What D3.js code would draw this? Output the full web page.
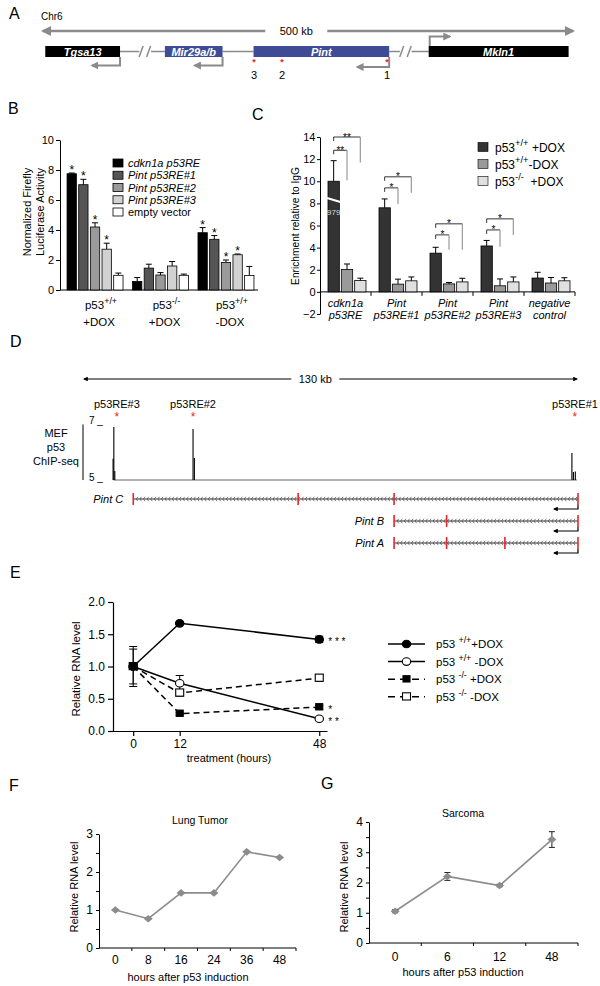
<!DOCTYPE html>
<html><head><meta charset="utf-8">
<script src="https://cdn.jsdelivr.net/npm/d3@7"></script>
<style>
body{margin:0;background:#fff}
svg{display:block}
text{font-family:"Liberation Sans",Arial,Helvetica,sans-serif;white-space:pre;fill:#000}
</style>
</head><body>
<svg id="fig" width="600" height="986"></svg>
<script>
// ================= DATA =================
// Panel A (schematic positions along the 500 kb map)
const aGenes = ["Tgsa13", "Mir29a/b", "Pint", "Mkln1"];
const aGeneStart = [4, 116, 199, 363];
const aGeneEnd = [74, 170, 326, 494];
const aGeneStrand = ["-", "-", "-", "+"];
const aBreaks = [97, 341];
const aRE = [199.5, 225.7, 324];
const aRELabels = ["3", "2", "1"];

// Panel B
const bGroups = ["p53+/+ +DOX", "p53-/- +DOX", "p53+/+ -DOX"];
const bGroupSup = ["+/+", "-/-", "+/+"];
const bGroupLine2 = ["+DOX", "+DOX", "-DOX"];
const bSeries = ["cdkn1a p53RE", "Pint p53RE#1", "Pint p53RE#2", "Pint p53RE#3", "empty vector"];
const bValues = [[7.75, 7.02, 4.2, 2.72, 0.98], [0.57, 1.46, 1.0, 1.6, 0.98], [3.82, 3.38, 1.83, 2.35, 0.97]];
const bErrors = [[0.05, 0.36, 0.28, 0.4, 0.15], [0.26, 0.26, 0.16, 0.3, 0.08], [0.34, 0.25, 0.17, 0.05, 0.6]];
const bSig = [[1, 1, 1, 1, 0], [0, 0, 0, 0, 0], [1, 1, 1, 1, 0]];
const bTicks = [0, 2, 4, 6, 8, 10];

// Panel C
const cGroups = ["cdkn1a|p53RE", "Pint|p53RE#1", "Pint|p53RE#2", "Pint|p53RE#3", "negative|control"];
const cSeries = ["p53+/+ +DOX", "p53+/+ -DOX", "p53-/- +DOX"];
const cSeriesSup = ["+/+", "+/+", "-/-"];
const cSeriesTail = [" +DOX", "-DOX", "  +DOX"];
const cValues = [[10.0, 2.02, 1.02], [7.6, 0.7, 1.0], [3.5, 0.72, 0.9], [4.15, 0.55, 0.9], [1.25, 0.8, 1.0]];
const cErrors = [[1.86, 0.5, 0.22], [0.8, 0.45, 0.35], [0.53, 0.13, 0.33], [0.5, 0.62, 0.45], [0.52, 0.5, 0.28]];
const cTicks = [-2, 0, 2, 4, 6, 8, 10, 12, 14];
const cBreakValue = 8.3;
const cBreakLabel = "979";
const cBrackets = [
  {g: 0, to: 1, y: 12.8, end: 10.1, label: "**"},
  {g: 0, to: 2, y: 14.0, end: 11.7, label: "**"},
  {g: 1, to: 1, y: 9.4, end: 7.95, label: "*"},
  {g: 1, to: 2, y: 10.4, end: 8.95, label: "*"},
  {g: 2, to: 1, y: 5.15, end: 3.8, label: "*"},
  {g: 2, to: 2, y: 6.15, end: 3.8, label: "*"},
  {g: 3, to: 1, y: 5.6, end: 4.07, label: "*"},
  {g: 3, to: 2, y: 6.6, end: 5.15, label: "*"}
];

// Panel D (kb along the 130 kb window)
const dREkb = [8.9, 28.9, 129.2];
const dRELabels = ["p53RE#3", "p53RE#2", "p53RE#1"];
const dChipKb = [7.9, 8.1, 8.35, 28.9, 29.25, 128.4, 128.8, 129.3];
const dChipSignal = [5.75, 6.86, 5.32, 6.79, 5.77, 5.95, 5.28, 5.3];
const dChipRange = [8.0, 129.7];
const dTranscripts = ["Pint C", "Pint B", "Pint A"];
const dExons = [[13.2, 56.5, 81.7, 130], [81.7, 95.5, 130], [81.7, 95.5, 110.8, 130]];

// Panel E
const eHours = [0, 12, 48];
const eSeries = ["p53+/+ +DOX", "p53+/+ -DOX", "p53-/- +DOX", "p53-/- -DOX"];
const eSup = ["+/+", "+/+", "-/-", "-/-"];
const eTail = ["+DOX", " -DOX", " +DOX", " -DOX"];
const eValues = [[1.0, 1.67, 1.42], [1.0, 0.74, 0.19], [1.0, 0.27, 0.37], [1.0, 0.59, 0.82]];
const eErrors = [[0.31, 0.02, 0.05], [0.27, 0.12, 0.02], [0.03, 0.02, 0.03], [0.03, 0.05, 0.05]];
const eStars = ["* * *", "* *", "*", ""];
const eTicks = [0, 0.5, 1.0, 1.5, 2.0];

// Panel F
const fHours = ["0", "8", "16", "24", "36", "48"];
const fValues = [1.0, 0.77, 1.45, 1.45, 2.53, 2.38];
const fTicks = [0, 0.5, 1, 1.5, 2, 2.5, 3];

// Panel G
const gHours = ["0", "6", "12", "48"];
const gValues = [1.05, 2.2, 1.9, 3.42];
const gErrors = [0.05, 0.13, 0.04, 0.26];
const gTicks = [0, 0.5, 1, 1.5, 2, 2.5, 3, 3.5, 4];

// ================= DRAWING =================
const svg = d3.select("#fig");
svg.append("rect").attr("width", 600).attr("height", 986).attr("fill", "#fff");
const defs = svg.append("defs");
function marker(id, color) {
  defs.append("marker").attr("id", id).attr("viewBox", "0 0 10 10")
    .attr("refX", 8).attr("refY", 5).attr("markerWidth", 4).attr("markerHeight", 4)
    .attr("orient", "auto-start-reverse")
    .append("path").attr("d", "M0,0L10,5L0,10z").attr("fill", color);
}
marker("ahGray", "#8a8a8a");
marker("ahBlack", "#000");
const FONT = "Liberation Sans, Arial, sans-serif";
const RED = "#e6262b";

function label(txt, x, y) {
  svg.append("text").attr("x", x).attr("y", y).attr("font-size", 16).text(txt);
}
function supText(sel, x, y, parts, size, anchor) {
  const t = sel.append("text").attr("x", x).attr("y", y).attr("font-size", size)
    .attr("text-anchor", anchor || "start");
  let up = false;
  parts.forEach(p => {
    const sup = Array.isArray(p);
    const s = sup ? p[0] : p;
    const ts = t.append("tspan").text(s);
    if (sup && !up) { ts.attr("dy", -size * 0.42).attr("font-size", size * 0.78); up = true; }
    else if (sup) { ts.attr("font-size", size * 0.78); }
    else if (up) { ts.attr("dy", size * 0.42); up = false; }
  });
  return t;
}

// ---------- Panel A ----------
{
  const g = svg.append("g");
  const xA = d3.scaleLinear().domain([0, 500]).range([41, 575]);
  label("A", 9, 19);
  g.append("text").attr("x", 41).attr("y", 19.5).attr("font-size", 10).text("Chr6");
  const cx = xA(239);
  g.append("text").attr("x", cx).attr("y", 35).attr("font-size", 11).attr("text-anchor", "middle").text("500 kb");
  g.append("line").attr("x1", cx - 31).attr("x2", xA(0) + 2).attr("y1", 31).attr("y2", 31)
    .attr("stroke", "#8a8a8a").attr("stroke-width", 2.5).attr("marker-end", "url(#ahGray)");
  g.append("line").attr("x1", cx + 31).attr("x2", xA(500) - 2).attr("y1", 31).attr("y2", 31)
    .attr("stroke", "#8a8a8a").attr("stroke-width", 2.5).attr("marker-end", "url(#ahGray)");
  const segs = [
    [aGeneEnd[0], aBreaks[0] - 5], [aBreaks[0] + 6, aGeneStart[1]],
    [aGeneEnd[1], aGeneStart[2]], [aGeneEnd[2], aBreaks[1] - 5], [aBreaks[1] + 6, aGeneStart[3]]
  ];
  segs.forEach(s => g.append("line").attr("x1", xA(s[0])).attr("x2", xA(s[1])).attr("y1", 51.5).attr("y2", 51.5)
    .attr("stroke", "#8a8a8a").attr("stroke-width", 1.5));
  aBreaks.forEach(b => {
    [-3.5, 4].forEach(o => g.append("line").attr("x1", xA(b) + o - 2).attr("x2", xA(b) + o + 2)
      .attr("y1", 57).attr("y2", 46).attr("stroke", "#8a8a8a").attr("stroke-width", 1.5));
  });
  aGenes.forEach((name, i) => {
    const col = (i === 1 || i === 2) ? "#3f4c95" : "#000";
    g.append("rect").attr("x", xA(aGeneStart[i])).attr("y", 46).attr("width", xA(aGeneEnd[i]) - xA(aGeneStart[i]))
      .attr("height", 11).attr("fill", col);
    g.append("text").attr("x", (xA(aGeneStart[i]) + xA(aGeneEnd[i])) / 2).attr("y", 55.5)
      .attr("text-anchor", "middle").attr("font-size", 11).attr("font-weight", "bold").attr("font-style", "italic")
      .style("fill", "#fff").text(name);
    if (aGeneStrand[i] === "-") {
      const x = xA(aGeneEnd[i]);
      const yy = i === 2 ? 67 : 65.5;
      const len = i === 2 ? 32 : 28;
      g.append("path").attr("d", `M${x},57V${yy}H${x - len}`).attr("fill", "none")
        .attr("stroke", "#8a8a8a").attr("stroke-width", 2).attr("marker-end", "url(#ahGray)");
    } else {
      const x = xA(aGeneStart[i]) + 1;
      g.append("path").attr("d", `M${x},46V36.5H${x + 20}`).attr("fill", "none")
        .attr("stroke", "#8a8a8a").attr("stroke-width", 2).attr("marker-end", "url(#ahGray)");
    }
  });
  aRE.forEach((p, i) => {
    g.append("text").attr("x", xA(p)).attr("y", 65).attr("text-anchor", "middle").attr("font-size", 9)
      .style("fill", RED).attr("font-weight", "bold").text("*");
    g.append("text").attr("x", xA(p)).attr("y", 78.5).attr("text-anchor", "middle").attr("font-size", 11).text(aRELabels[i]);
  });
}

// ---------- Panel B ----------
{
  const g = svg.append("g");
  label("B", 8, 114);
  const yB = d3.scaleLinear().domain([0, 10]).range([290, 140]);
  const x0 = d3.scaleBand().domain(bGroups).range([60.5, 260.5]).paddingInner(0.145).paddingOuter(0.1);
  const x1 = d3.scaleBand().domain(bSeries).range([0, x0.bandwidth()]).paddingInner(0.2);
  const cols = ["#000", "#555", "#9a9a9a", "#d2d2d2", "#fff"];
  g.append("g").attr("transform", "translate(60,0)")
    .call(d3.axisLeft(yB).tickValues(bTicks).tickSize(4).tickPadding(2).tickSizeOuter(0).tickFormat(d3.format("d")))
    .call(a => { a.selectAll("text").attr("font-size", 11).attr("font-family", FONT); a.selectAll("line,path").attr("stroke", "#000"); });
  g.append("line").attr("x1", 60).attr("x2", 258).attr("y1", 290).attr("y2", 290).attr("stroke", "#000");
  bGroups.forEach((gr, gi) => {
    bSeries.forEach((s, si) => {
      const v = bValues[gi][si], e = bErrors[gi][si];
      const x = x0(gr) + x1(s), w = x1.bandwidth();
      g.append("line").attr("x1", x + w / 2).attr("x2", x + w / 2).attr("y1", yB(v)).attr("y2", yB(v + e)).attr("stroke", "#000");
      g.append("line").attr("x1", x + w / 2 - 3).attr("x2", x + w / 2 + 3).attr("y1", yB(v + e)).attr("y2", yB(v + e)).attr("stroke", "#000");
      g.append("rect").attr("x", x).attr("y", yB(v)).attr("width", w).attr("height", yB(0) - yB(v))
        .attr("fill", cols[si]).attr("stroke", "#000").attr("stroke-width", 0.8);
      if (bSig[gi][si]) g.append("text").attr("x", x + w / 2).attr("y", yB(v + e) + 1).attr("text-anchor", "middle")
        .attr("font-size", 12).text("*");
    });
    const cx = x0(gr) + x0.bandwidth() / 2 + 6;
    supText(g, cx, 309, ["p53", [bGroupSup[gi]]], 11.5, "middle");
    g.append("text").attr("x", cx - 2).attr("y", 326).attr("text-anchor", "middle").attr("font-size", 11.5).text(bGroupLine2[gi]);
  });
  bSeries.forEach((s, si) => {
    const y = 163 + si * 12.25;
    g.append("rect").attr("x", 113).attr("y", y - 4).attr("width", 10).attr("height", 8)
      .attr("fill", cols[si]).attr("stroke", "#000").attr("stroke-width", 0.8);
    g.append("text").attr("x", 128).attr("y", y + 4).attr("font-size", 11)
      .attr("font-style", si < 4 ? "italic" : "normal").text(s);
  });
  g.append("g").attr("transform", "translate(31,212) rotate(-90)").call(t => {
    t.append("text").attr("text-anchor", "middle").attr("font-size", 11).text("Normalized Firefly");
    t.append("text").attr("y", 13).attr("text-anchor", "middle").attr("font-size", 11).text("Luciferase Activity");
  });
}

// ---------- Panel C ----------
{
  const g = svg.append("g");
  label("C", 252, 120);
  const yC = d3.scaleLinear().domain([-2, 14]).range([314, 137]);
  const x0 = d3.scaleBand().domain(cGroups).range([320, 575]);
  const x1 = d3.scaleBand().domain(cSeries).range([8, 46]).paddingInner(0.15);
  const cols = ["#333", "#9a9a9a", "#e0e0e0"];
  g.append("g").attr("transform", "translate(320,0)")
    .call(d3.axisLeft(yC).tickValues(cTicks).tickSize(3).tickPadding(1.5).tickSizeOuter(0).tickFormat(d3.format("d")))
    .call(a => { a.selectAll("text").attr("font-size", 11).attr("font-family", FONT); a.selectAll("line,path").attr("stroke", "#000"); });
  g.append("line").attr("x1", 320).attr("x2", 575).attr("y1", yC(0)).attr("y2", yC(0)).attr("stroke", "#000");
  cGroups.forEach((gr, gi) => {
    g.append("line").attr("x1", x0(gr) + x0.bandwidth()).attr("x2", x0(gr) + x0.bandwidth())
      .attr("y1", yC(0)).attr("y2", yC(0) + 4).attr("stroke", "#000");
    cSeries.forEach((s, si) => {
      const v = cValues[gi][si], e = cErrors[gi][si];
      const x = x0(gr) + x1(s), w = x1.bandwidth();
      g.append("line").attr("x1", x + w / 2).attr("x2", x + w / 2).attr("y1", yC(v)).attr("y2", yC(v + e)).attr("stroke", "#000");
      g.append("line").attr("x1", x + w / 2 - 3).attr("x2", x + w / 2 + 3).attr("y1", yC(v + e)).attr("y2", yC(v + e)).attr("stroke", "#000");
      g.append("rect").attr("x", x).attr("y", yC(v)).attr("width", w).attr("height", yC(0) - yC(v))
        .attr("fill", cols[si]).attr("stroke", "#000").attr("stroke-width", 0.8);
      if (gi === 0 && si === 0) {
        g.append("line").attr("x1", x - 1).attr("x2", x + w + 1).attr("y1", yC(cBreakValue) - 2).attr("y2", yC(cBreakValue) + 2)
          .attr("stroke", "#fff").attr("stroke-width", 2);
        g.append("text").attr("x", x + w / 2).attr("y", yC(cBreakValue) + 15).attr("text-anchor", "middle")
          .attr("font-size", 8).style("fill", "#ddd").text(cBreakLabel);
      }
    });
    const lines = gr.split("|");
    const cx = x0(gr) + x0.bandwidth() / 2;
    g.append("text").attr("x", cx).attr("y", 307).attr("text-anchor", "middle").attr("font-size", 11).attr("font-style", "italic").text(lines[0]);
    g.append("text").attr("x", cx).attr("y", 319).attr("text-anchor", "middle").attr("font-size", 11).attr("font-style", "italic").text(lines[1]);
  });
  cBrackets.forEach(b => {
    const gr = cGroups[b.g];
    const xa = x0(gr) + x1(cSeries[0]) + x1.bandwidth() / 2;
    const xb = x0(gr) + x1(cSeries[b.to]) + x1.bandwidth() / 2;
    g.append("path").attr("d", `M${xa},${yC(b.y) + 4}V${yC(b.y)}H${xb}`).attr("fill", "none").attr("stroke", "#000").attr("stroke-width", 0.8);
    g.append("line").attr("x1", xb).attr("x2", xb).attr("y1", yC(b.y)).attr("y2", yC(b.end)).attr("stroke", "#999").attr("stroke-width", 1.2);
    g.append("text").attr("x", (xa + xb) / 2).attr("y", yC(b.y) + 3.5).attr("text-anchor", "middle").attr("font-size", 10).text(b.label);
  });
  cSeries.forEach((s, si) => {
    const y = 147 + si * 17;
    g.append("rect").attr("x", 478).attr("y", y - 4.5).attr("width", 10).attr("height", 9)
      .attr("fill", cols[si]).attr("stroke", "#000").attr("stroke-width", 0.6);
    supText(g, 495, y + 4.5, ["p53", [cSeriesSup[si]], cSeriesTail[si]], 12);
  });
  g.append("text").attr("transform", "translate(299,226) rotate(-90)").attr("text-anchor", "middle")
    .attr("font-size", 10.2).text("Enrichment relative to IgG");
}

// ---------- Panel D ----------
{
  const g = svg.append("g");
  label("D", 10, 347);
  const xD = d3.scaleLinear().domain([0, 130]).range([83, 578]);
  const yD = d3.scaleLinear().domain([5, 7]).range([480, 423]);
  const cx = xD(61);
  g.append("text").attr("x", cx).attr("y", 383).attr("text-anchor", "middle").attr("font-size", 11).text("130 kb");
  g.append("line").attr("x1", cx - 24).attr("x2", xD(0) + 1).attr("y1", 379).attr("y2", 379)
    .attr("stroke", "#000").attr("stroke-width", 1.2).attr("marker-end", "url(#ahBlack)");
  g.append("line").attr("x1", cx + 24).attr("x2", xD(130) - 1).attr("y1", 379).attr("y2", 379)
    .attr("stroke", "#000").attr("stroke-width", 1.2).attr("marker-end", "url(#ahBlack)");
  dREkb.forEach((k, i) => {
    g.append("text").attr("x", xD(k)).attr("y", 408).attr("text-anchor", "middle").attr("font-size", 11).text(dRELabels[i]);
    g.append("text").attr("x", xD(k)).attr("y", 421).attr("text-anchor", "middle").attr("font-size", 12).style("fill", RED).text("*");
  });
  g.append("text").attr("x", 89).attr("y", 424).attr("font-size", 10).text("7 _");
  g.append("text").attr("x", 89).attr("y", 481).attr("font-size", 10).text("5 _");
  g.append("line").attr("x1", xD(0)).attr("x2", xD(0)).attr("y1", yD(6.95)).attr("y2", yD(5)).attr("stroke", "#000");
  ["MEF", "p53", "ChIP-seq"].forEach((t, i) => g.append("text").attr("x", 56).attr("y", 437 + i * 14)
    .attr("text-anchor", "middle").attr("font-size", 11).text(t));
  g.append("line").attr("x1", xD(dChipRange[0])).attr("x2", xD(dChipRange[1])).attr("y1", yD(5)).attr("y2", yD(5))
    .attr("stroke", "#666").attr("stroke-width", 1.2);
  dChipKb.forEach((k, i) => g.append("line").attr("x1", xD(k)).attr("x2", xD(k)).attr("y1", yD(5)).attr("y2", yD(dChipSignal[i]))
    .attr("stroke", "#000").attr("stroke-width", 1.1));
  dTranscripts.forEach((name, ti) => {
    const y = 499 + ti * 22;
    const ex = dExons[ti];
    const x1 = xD(ex[0]), x2 = xD(ex[ex.length - 1]);
    g.append("text").attr("x", x1 - 10).attr("y", y + 4).attr("text-anchor", "end").attr("font-size", 11)
      .attr("font-style", "italic").text(name);
    g.append("line").attr("x1", x1).attr("x2", x2).attr("y1", y).attr("y2", y).attr("stroke", "#333").attr("stroke-width", 1);
    let d = "";
    for (let x = x1 + 3; x < x2 - 2; x += 3.6) d += `M${x + 1.6},${y - 2.2}L${x},${y}L${x + 1.6},${y + 2.2}`;
    g.append("path").attr("d", d).attr("fill", "none").attr("stroke", "#444").attr("stroke-width", 0.7);
    ex.forEach(k => g.append("line").attr("x1", xD(k)).attr("x2", xD(k)).attr("y1", y - 6).attr("y2", y + 6)
      .attr("stroke", RED).attr("stroke-width", 1.6));
    g.append("path").attr("d", `M${x2},${y + 6}V${y + 10}H${x2 - 24}`).attr("fill", "none")
      .attr("stroke", "#000").attr("stroke-width", 1.2).attr("marker-end", "url(#ahBlack)");
  });
}

// ---------- Panel E ----------
{
  const g = svg.append("g");
  label("E", 10, 578);
  const xE = d3.scaleLinear().domain([-6.5, 50]).range([108, 327]);
  const yE = d3.scaleLinear().domain([0, 2]).range([731, 602]);
  g.append("g").attr("transform", "translate(113,0)")
    .call(d3.axisLeft(yE).tickValues(eTicks).tickSize(5).tickSizeOuter(0).tickFormat(d3.format(".1f")))
    .call(a => { a.selectAll("text").attr("font-size", 12).attr("font-family", FONT); a.selectAll("line,path").attr("stroke", "#000").attr("stroke-width", 1.2); });
  g.append("g").attr("transform", "translate(0,731)")
    .call(d3.axisBottom(xE).tickValues(eHours).tickSize(5).tickSizeOuter(0))
    .call(a => { a.selectAll("text").attr("font-size", 12).attr("font-family", FONT); a.selectAll("line,path").attr("stroke", "#000").attr("stroke-width", 1.2); });
  g.append("text").attr("x", 229).attr("y", 762).attr("text-anchor", "middle").attr("font-size", 11).text("treatment (hours)");
  g.append("text").attr("transform", "translate(80,669) rotate(-90)").attr("text-anchor", "middle")
    .attr("font-size", 11.5).text("Relative RNA level");
  const dash = [null, null, "6,4", "6,4"];
  const filled = [true, false, true, false];
  const shape = ["circle", "circle", "square", "square"];
  const line = d3.line().x((d, i) => xE(eHours[i])).y(d => yE(d));
  eSeries.forEach((s, si) => {
    g.append("path").datum(eValues[si]).attr("d", line).attr("fill", "none").attr("stroke", "#000")
      .attr("stroke-width", 1.5).attr("stroke-dasharray", dash[si]);
  });
  function drawMarker(sel, si, x, y) {
    if (shape[si] === "circle") {
      sel.append("ellipse").attr("cx", x).attr("cy", y).attr("rx", 4.2).attr("ry", 3.8)
        .attr("fill", filled[si] ? "#000" : "#fff").attr("stroke", "#000").attr("stroke-width", 1.1);
    } else {
      const s = filled[si] ? 7 : 8;
      sel.append("rect").attr("x", x - s / 2).attr("y", y - s / 2).attr("width", s).attr("height", s * 0.9)
        .attr("fill", filled[si] ? "#000" : "#fff").attr("stroke", "#000").attr("stroke-width", 1.1);
    }
  }
  eSeries.forEach((s, si) => {
    eValues[si].forEach((v, i) => {
      const e = eErrors[si][i], x = xE(eHours[i]);
      g.append("line").attr("x1", x).attr("x2", x).attr("y1", yE(v - e)).attr("y2", yE(v + e)).attr("stroke", "#000");
      [v - e, v + e].forEach(q => g.append("line").attr("x1", x - 4).attr("x2", x + 4).attr("y1", yE(q)).attr("y2", yE(q)).attr("stroke", "#000"));
    });
  });
  [3, 2, 1, 0].forEach(si => eValues[si].forEach((v, i) => drawMarker(g, si, xE(eHours[i]), yE(v))));
  eSeries.forEach((s, si) => {
    if (eStars[si]) g.append("text").attr("x", xE(48) + 9).attr("y", yE(eValues[si][2]) + 6).attr("font-size", 10).text(eStars[si]);
  });
  eSeries.forEach((s, si) => {
    const y = 644 + si * 17.6;
    g.append("line").attr("x1", 388).attr("x2", 425).attr("y1", y).attr("y2", y).attr("stroke", "#000")
      .attr("stroke-width", 1.5).attr("stroke-dasharray", si >= 2 ? "7,5" : null);
    drawMarker(g, si, 406.5, y);
    supText(g, 436, y + 4, ["p53 ", [eSup[si]], eTail[si]], 11.5);
  });
}

// ---------- Panel F ----------
{
  const g = svg.append("g");
  label("F", 9, 791);
  const xF = d3.scaleBand().domain(fHours).range([99, 296]);
  const yF = d3.scaleLinear().domain([0, 3]).range([948, 834]);
  g.append("g").attr("transform", "translate(99,0)")
    .call(d3.axisLeft(yF).tickValues(fTicks).tickSize(3).tickSizeOuter(0).tickFormat(d => Number.isInteger(d) ? d : ""))
    .call(a => { a.selectAll("text").attr("font-size", 12).attr("font-family", FONT); a.selectAll("line,path").attr("stroke", "#000"); });
  g.append("line").attr("x1", 99).attr("x2", 296).attr("y1", 948).attr("y2", 948).attr("stroke", "#000");
  fHours.forEach(h => {
    g.append("line").attr("x1", xF(h) + xF.bandwidth()).attr("x2", xF(h) + xF.bandwidth()).attr("y1", 948).attr("y2", 951).attr("stroke", "#000");
    g.append("text").attr("x", xF(h) + xF.bandwidth() / 2).attr("y", 964).attr("text-anchor", "middle").attr("font-size", 12).text(h);
  });
  const line = d3.line().x((d, i) => xF(fHours[i]) + xF.bandwidth() / 2).y(d => yF(d));
  g.append("path").datum(fValues).attr("d", line).attr("fill", "none").attr("stroke", "#8c8c8c").attr("stroke-width", 1.6);
  fValues.forEach((v, i) => {
    const x = xF(fHours[i]) + xF.bandwidth() / 2, y = yF(v);
    g.append("path").attr("d", `M${x - 4.5},${y}L${x},${y - 3.8}L${x + 4.5},${y}L${x},${y + 3.8}Z`).attr("fill", "#8c8c8c");
  });
  g.append("text").attr("x", 200).attr("y", 824).attr("text-anchor", "middle").attr("font-size", 10.5).text("Lung Tumor");
  g.append("text").attr("x", 188).attr("y", 981).attr("text-anchor", "middle").attr("font-size", 11).text("hours after p53 induction");
  g.append("text").attr("transform", "translate(78,887) rotate(-90)").attr("text-anchor", "middle").attr("font-size", 11).text("Relative RNA level");
}

// ---------- Panel G ----------
{
  const g = svg.append("g");
  label("G", 321, 789);
  const xG = d3.scaleBand().domain(gHours).range([369, 578]);
  const yG = d3.scaleLinear().domain([0, 4]).range([943, 822]);
  g.append("g").attr("transform", "translate(369,0)")
    .call(d3.axisLeft(yG).tickValues(gTicks).tickSize(3).tickSizeOuter(0).tickFormat(d => Number.isInteger(d) ? d : ""))
    .call(a => { a.selectAll("text").attr("font-size", 12).attr("font-family", FONT); a.selectAll("line,path").attr("stroke", "#000"); });
  g.append("line").attr("x1", 369).attr("x2", 578).attr("y1", 943).attr("y2", 943).attr("stroke", "#000");
  gHours.forEach(h => {
    g.append("line").attr("x1", xG(h) + xG.bandwidth()).attr("x2", xG(h) + xG.bandwidth()).attr("y1", 943).attr("y2", 946).attr("stroke", "#000");
    g.append("text").attr("x", xG(h) + xG.bandwidth() / 2).attr("y", 961).attr("text-anchor", "middle").attr("font-size", 12).text(h);
  });
  const line = d3.line().x((d, i) => xG(gHours[i]) + xG.bandwidth() / 2).y(d => yG(d));
  g.append("path").datum(gValues).attr("d", line).attr("fill", "none").attr("stroke", "#8c8c8c").attr("stroke-width", 1.6);
  gValues.forEach((v, i) => {
    const x = xG(gHours[i]) + xG.bandwidth() / 2, y = yG(v), e = gErrors[i];
    g.append("line").attr("x1", x).attr("x2", x).attr("y1", yG(v - e)).attr("y2", yG(v + e)).attr("stroke", "#222");
    [v - e, v + e].forEach(q => g.append("line").attr("x1", x - 3).attr("x2", x + 3).attr("y1", yG(q)).attr("y2", yG(q)).attr("stroke", "#222"));
    g.append("path").attr("d", `M${x - 4.5},${y}L${x},${y - 3.8}L${x + 4.5},${y}L${x},${y + 3.8}Z`).attr("fill", "#8c8c8c");
  });
  g.append("text").attr("x", 463).attr("y", 817).attr("text-anchor", "middle").attr("font-size", 10.5).text("Sarcoma");
  g.append("text").attr("x", 463).attr("y", 976).attr("text-anchor", "middle").attr("font-size", 11).text("hours after p53 induction");
  g.append("text").attr("transform", "translate(348,887) rotate(-90)").attr("text-anchor", "middle").attr("font-size", 11).text("Relative RNA level");
}
</script>
</body></html>
